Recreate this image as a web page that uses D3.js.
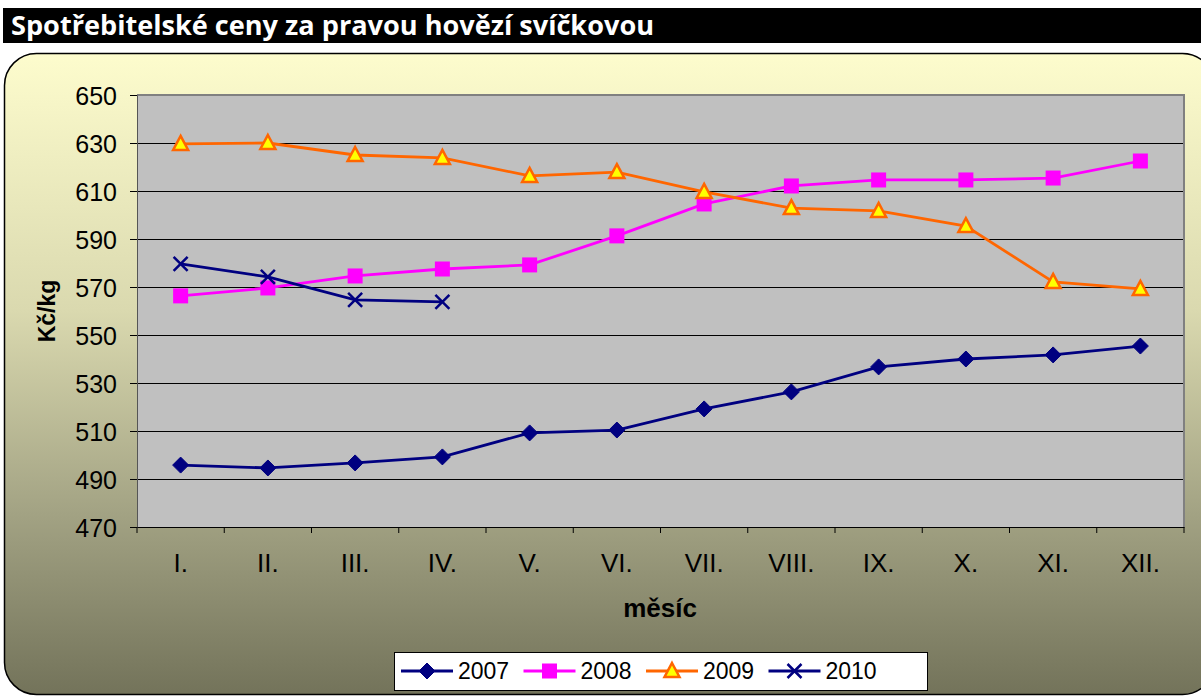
<!DOCTYPE html>
<html>
<head>
<meta charset="utf-8">
<script src="https://cdn.jsdelivr.net/npm/d3@7"></script>
<style>
  body { margin: 0; background: #fff; }
  svg { display: block; }
</style>
</head>
<body>
<svg id="chart"></svg>
<script>
const months = ["I.", "II.", "III.", "IV.", "V.", "VI.", "VII.", "VIII.", "IX.", "X.", "XI.", "XII."];
const v2007 = [495.8, 494.6, 496.7, 499.2, 509.2, 510.4, 519.2, 526.3, 536.7, 540.0, 541.7, 545.4];
const v2008 = [566.3, 569.6, 574.6, 577.5, 579.2, 591.3, 604.6, 612.1, 614.6, 614.6, 615.4, 622.5];
const v2009 = [629.6, 630.0, 625.0, 623.8, 616.3, 617.9, 609.6, 602.9, 601.7, 595.4, 572.1, 569.2];
const v2010 = [579.6, 574.2, 564.6, 563.8];
const yTicks = [470, 490, 510, 530, 550, 570, 590, 610, 630, 650];

const series = [
  { name: "2007", values: v2007, color: "#000080", marker: "diamond" },
  { name: "2008", values: v2008, color: "#FF00FF", marker: "square" },
  { name: "2009", values: v2009, color: "#FF6600", marker: "triangle" },
  { name: "2010", values: v2010, color: "#000080", marker: "cross" },
];

const dims = {
  width: 1201,
  height: 697,
  plot: { left: 137, right: 1184, top: 95, bottom: 527 },
};
const axisFont = "Arial, 'Liberation Sans', sans-serif";

const svg = d3.select("#chart")
  .attr("width", dims.width)
  .attr("height", dims.height);

// background gradient for the chart panel
const defs = svg.append("defs");
const grad = defs.append("linearGradient")
  .attr("id", "panelGrad")
  .attr("x1", 0).attr("y1", 0).attr("x2", 0).attr("y2", 1);
grad.append("stop").attr("offset", "0%").attr("stop-color", "#FDFCCD");
grad.append("stop").attr("offset", "40%").attr("stop-color", "#DAD9AF");
grad.append("stop").attr("offset", "72%").attr("stop-color", "#A2A283");
grad.append("stop").attr("offset", "100%").attr("stop-color", "#73735A");

// title bar
svg.append("rect")
  .attr("x", 3).attr("y", 8)
  .attr("width", 1198).attr("height", 35)
  .attr("fill", "#000");
svg.append("text")
  .attr("x", 11).attr("y", 35)
  .attr("font-family", "'Open Sans', Lato, sans-serif")
  .attr("font-weight", "bold")
  .attr("font-size", 26)
  .attr("textLength", 643)
  .attr("lengthAdjust", "spacingAndGlyphs")
  .attr("fill", "#fff")
  .text("Spotřebitelské ceny za pravou hovězí svíčkovou");

// chart panel
svg.append("rect")
  .attr("x", 4.5).attr("y", 53.5)
  .attr("width", 1210).attr("height", 641)
  .attr("rx", 32).attr("ry", 32)
  .attr("fill", "url(#panelGrad)")
  .attr("stroke", "#000")
  .attr("stroke-width", 1.5);

const x = d3.scaleBand()
  .domain(months)
  .range([dims.plot.left, dims.plot.right]);

const y = d3.scaleLinear()
  .domain([470, 650])
  .range([dims.plot.bottom, dims.plot.top]);

// plot area
svg.append("rect")
  .attr("x", dims.plot.left).attr("y", dims.plot.top)
  .attr("width", dims.plot.right - dims.plot.left)
  .attr("height", dims.plot.bottom - dims.plot.top)
  .attr("fill", "#C0C0C0");

// gridlines
svg.append("g")
  .selectAll("line")
  .data(yTicks.slice(1, -1))
  .join("line")
  .attr("x1", dims.plot.left).attr("x2", dims.plot.right)
  .attr("y1", d => Math.round(y(d)) + 0.5).attr("y2", d => Math.round(y(d)) + 0.5)
  .attr("stroke", "#000").attr("stroke-width", 1);

// plot border (grey top / right)
svg.append("path")
  .attr("d", `M${dims.plot.left},${dims.plot.top}H${dims.plot.right}V${dims.plot.bottom}`)
  .attr("fill", "none")
  .attr("stroke", "#808080")
  .attr("stroke-width", 2);

// y axis
svg.append("g")
  .attr("transform", `translate(${dims.plot.left},0)`)
  .call(d3.axisLeft(y).tickValues(yTicks).tickSize(7).tickPadding(13).tickFormat(d3.format("d")))
  .call(g => {
    g.select(".domain").attr("stroke", "#555");
    g.selectAll(".tick line").attr("stroke", "#000");
    g.selectAll(".tick text")
      .attr("font-family", axisFont)
      .attr("font-size", 25)
      .attr("dy", "0.36em")
      .attr("fill", "#000");
  });

// x axis
const xAxisG = svg.append("g")
  .attr("transform", `translate(0,${dims.plot.bottom})`)
  .call(d3.axisBottom(x).tickSize(0).tickPadding(27))
  .call(g => {
    g.select(".domain").attr("stroke", "#000");
    g.selectAll(".tick text")
      .attr("font-family", axisFont)
      .attr("font-size", 26)
      .attr("fill", "#000");
  });
xAxisG.selectAll("line.sep")
  .data(months.concat(["end"]))
  .join("line")
  .attr("class", "sep")
  .attr("x1", (d, i) => dims.plot.left + i * x.bandwidth())
  .attr("x2", (d, i) => dims.plot.left + i * x.bandwidth())
  .attr("y1", 0).attr("y2", 6)
  .attr("stroke", "#000");

// axis titles
svg.append("text")
  .attr("transform", `translate(55,${(dims.plot.top + dims.plot.bottom) / 2}) rotate(-90)`)
  .attr("text-anchor", "middle")
  .attr("font-family", axisFont)
  .attr("font-weight", "bold")
  .attr("font-size", 23)
  .text("Kč/kg");
svg.append("text")
  .attr("x", 660)
  .attr("y", 617)
  .attr("text-anchor", "middle")
  .attr("font-family", axisFont)
  .attr("font-weight", "bold")
  .attr("font-size", 26)
  .text("měsíc");

function drawMarker(g, type, color, cx, cy) {
  if (type === "diamond") {
    g.append("path")
      .attr("d", `M${cx},${cy - 8}L${cx + 8},${cy}L${cx},${cy + 8}L${cx - 8},${cy}Z`)
      .attr("fill", color).attr("stroke", color);
  } else if (type === "square") {
    g.append("rect")
      .attr("x", cx - 7.5).attr("y", cy - 7.5)
      .attr("width", 15).attr("height", 15)
      .attr("fill", color);
  } else if (type === "triangle") {
    g.append("path")
      .attr("d", `M${cx},${cy - 8}L${cx + 7.5},${cy + 6}L${cx - 7.5},${cy + 6}Z`)
      .attr("fill", "#FFFF00").attr("stroke", color).attr("stroke-width", 2.5)
      .attr("stroke-linejoin", "miter");
  } else if (type === "cross") {
    g.append("path")
      .attr("d", `M${cx - 7},${cy - 7}L${cx + 7},${cy + 7}M${cx + 7},${cy - 7}L${cx - 7},${cy + 7}`)
      .attr("stroke", color).attr("stroke-width", 2.5);
  }
}

const line = d3.line()
  .x((d, i) => x(months[i]) + x.bandwidth() / 2)
  .y(d => y(d));

const linesG = svg.append("g");
series.forEach(s => {
  linesG.append("path")
    .attr("d", line(s.values))
    .attr("fill", "none")
    .attr("stroke", s.color)
    .attr("stroke-width", 2.8);
});
series.forEach(s => {
  const mg = linesG.append("g");
  s.values.forEach((v, i) => {
    drawMarker(mg, s.marker, s.color, x(months[i]) + x.bandwidth() / 2, y(v));
  });
});

// legend
const legend = svg.append("g").attr("transform", "translate(394,652)");
legend.append("rect")
  .attr("x", 0.5).attr("y", 0.5)
  .attr("width", 533).attr("height", 38)
  .attr("fill", "#fff").attr("stroke", "#000");
const itemW = 122.5;
series.forEach((s, i) => {
  const g = legend.append("g").attr("transform", `translate(${7 + i * itemW},19)`);
  g.append("line")
    .attr("x1", 0).attr("x2", 52)
    .attr("stroke", s.color).attr("stroke-width", 2.8);
  drawMarker(g, s.marker, s.color, 26, 0);
  g.append("text")
    .attr("x", 57).attr("y", 8)
    .attr("font-family", axisFont)
    .attr("font-size", 23)
    .text(s.name);
});
</script>
</body>
</html>
